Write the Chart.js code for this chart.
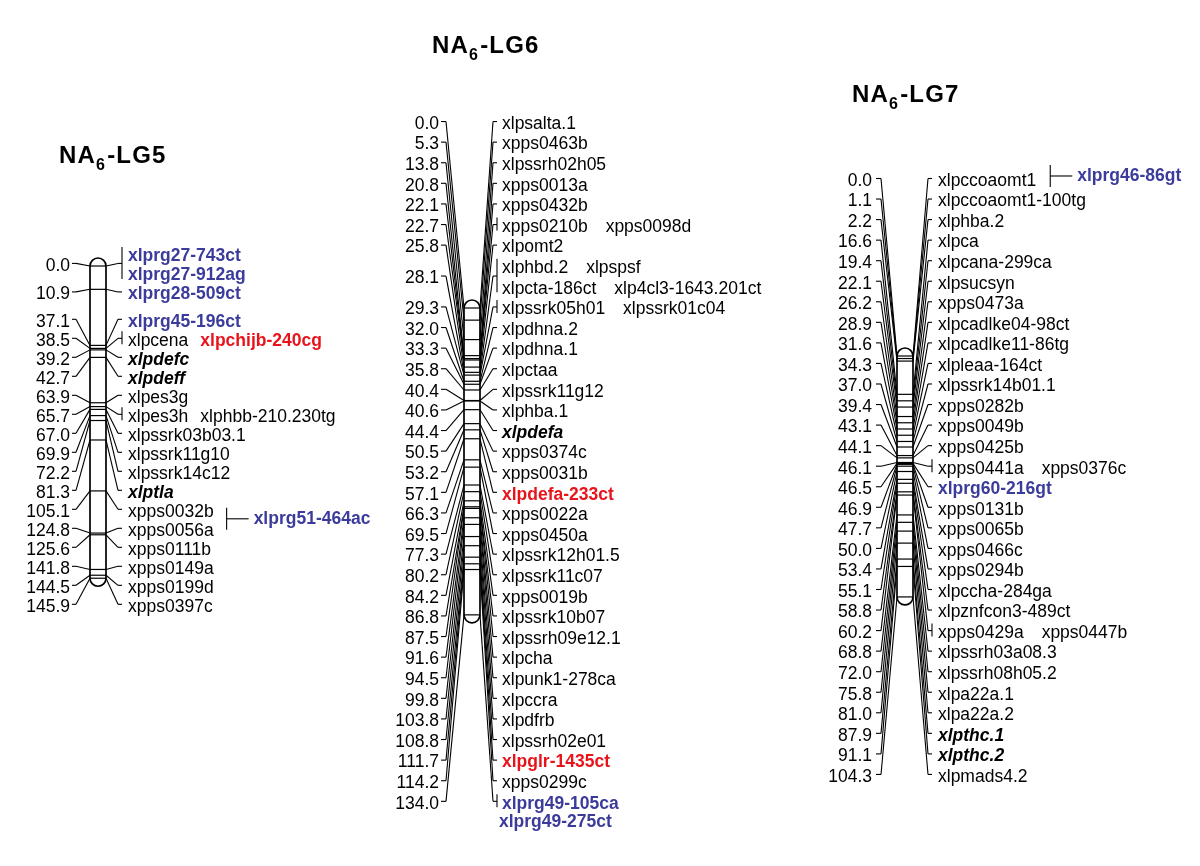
<!DOCTYPE html>
<html><head><meta charset="utf-8">
<script src="https://cdn.jsdelivr.net/npm/chart.js@4.4.0/dist/chart.umd.min.js"></script>
<style>html,body{margin:0;padding:0;background:#fff}canvas{display:block}</style>
</head><body>
<canvas id="c" width="1200" height="866"></canvas>
<script>
// ---------------- data ----------------
const groupNames = ["LG5", "LG6", "LG7"];

const lg5Pos = [0.0, 10.9, 37.1, 38.5, 39.2, 42.7, 63.9, 65.7, 67.0, 69.9, 72.2, 81.3, 105.1, 124.8, 125.6, 141.8, 144.5, 145.9];
const lg5Markers = [
  [["xlprg27-743ct"], ["xlprg27-912ag"]],
  [["xlprg28-509ct"]],
  [["xlprg45-196ct"]],
  [["xlpcena", "xlpchijb-240cg"]],
  [["xlpdefc"]],
  [["xlpdeff"]],
  [["xlpes3g"]],
  [["xlpes3h", "xlphbb-210.230tg"]],
  [["xlpssrk03b03.1"]],
  [["xlpssrk11g10"]],
  [["xlpssrk14c12"]],
  [["xlptla"]],
  [["xpps0032b"]],
  [["xpps0056a"]],
  [["xpps0111b"]],
  [["xpps0149a"]],
  [["xpps0199d"]],
  [["xpps0397c"]]
];
const lg5SidePos = [105.1];
const lg5SideNames = ["xlprg51-464ac"];
const lg5BelowPos = [];
const lg5BelowNames = [];

const lg6Pos = [0.0, 5.3, 13.8, 20.8, 22.1, 22.7, 25.8, 28.1, 29.3, 32.0, 33.3, 35.8, 40.4, 40.6, 44.4, 50.5, 53.2, 57.1, 66.3, 69.5, 77.3, 80.2, 84.2, 86.8, 87.5, 91.6, 94.5, 99.8, 103.8, 108.8, 111.7, 114.2, 134.0];
const lg6Markers = [
  [["xlpsalta.1"]], [["xpps0463b"]], [["xlpssrh02h05"]], [["xpps0013a"]], [["xpps0432b"]],
  [["xpps0210b", "xpps0098d"]], [["xlpomt2"]],
  [["xlphbd.2", "xlpspsf"], ["xlpcta-186ct", "xlp4cl3-1643.201ct"]],
  [["xlpssrk05h01", "xlpssrk01c04"]],
  [["xlpdhna.2"]], [["xlpdhna.1"]], [["xlpctaa"]], [["xlpssrk11g12"]], [["xlphba.1"]], [["xlpdefa"]],
  [["xpps0374c"]], [["xpps0031b"]], [["xlpdefa-233ct"]], [["xpps0022a"]], [["xpps0450a"]],
  [["xlpssrk12h01.5"]], [["xlpssrk11c07"]], [["xpps0019b"]], [["xlpssrk10b07"]], [["xlpssrh09e12.1"]],
  [["xlpcha"]], [["xlpunk1-278ca"]], [["xlpccra"]], [["xlpdfrb"]], [["xlpssrh02e01"]], [["xlpglr-1435ct"]],
  [["xpps0299c"]], [["xlprg49-105ca"]]
];
const lg6SidePos = [];
const lg6SideNames = [];
const lg6BelowPos = [134.0];
const lg6BelowNames = ["xlprg49-275ct"];

const lg7Pos = [0.0, 1.1, 2.2, 16.6, 19.4, 22.1, 26.2, 28.9, 31.6, 34.3, 37.0, 39.4, 43.1, 44.1, 46.1, 46.5, 46.9, 47.7, 50.0, 53.4, 55.1, 58.8, 60.2, 68.8, 72.0, 75.8, 81.0, 87.9, 91.1, 104.3];
const lg7Markers = [
  [["xlpccoaomt1"]], [["xlpccoaomt1-100tg"]], [["xlphba.2"]], [["xlpca"]], [["xlpcana-299ca"]],
  [["xlpsucsyn"]], [["xpps0473a"]], [["xlpcadlke04-98ct"]], [["xlpcadlke11-86tg"]], [["xlpleaa-164ct"]],
  [["xlpssrk14b01.1"]], [["xpps0282b"]], [["xpps0049b"]], [["xpps0425b"]], [["xpps0441a", "xpps0376c"]],
  [["xlprg60-216gt"]], [["xpps0131b"]], [["xpps0065b"]], [["xpps0466c"]], [["xpps0294b"]],
  [["xlpccha-284ga"]], [["xlpznfcon3-489ct"]], [["xpps0429a", "xpps0447b"]], [["xlpssrh03a08.3"]],
  [["xlpssrh08h05.2"]], [["xlpa22a.1"]], [["xlpa22a.2"]], [["xlpthc.1"]], [["xlpthc.2"]], [["xlpmads4.2"]]
];
const lg7SidePos = [0.0];
const lg7SideNames = ["xlprg46-86gt"];
const lg7BelowPos = [];
const lg7BelowNames = [];

// marker classes
const rgaMarkers = ["xlprg27-743ct", "xlprg27-912ag", "xlprg28-509ct", "xlprg45-196ct", "xlprg51-464ac",
  "xlprg49-105ca", "xlprg49-275ct", "xlprg46-86gt", "xlprg60-216gt"];
const candidateMarkers = ["xlpchijb-240cg", "xlpdefa-233ct", "xlpglr-1435ct"];
const geneMarkers = ["xlpdefc", "xlpdeff", "xlptla", "xlpdefa", "xlpthc.1", "xlpthc.2"];

// ---------------- layout (not data) ----------------
const FONT = '"Liberation Sans", Arial, Helvetica, sans-serif';
const FS = '17.5px ';
const BLUE = '#3b3b9c';
const RED = '#e8141c';
const H = 866;
const layout = {
  LG5: { axis: 'y5', bx: 98, bw: 16, top: 266, k: 2.14, gap: 19, numRight: 70, lh0: 72, lh1: 76, rd: 118, rh: 122, textX: 128, colGap: 12, tx: 59, ty: 163, sideGap: 13, sideDy: 9.5 },
  LG6: { axis: 'y6', bx: 472, bw: 16, top: 308, k: 2.29, gap: 20.6, numRight: 439, lh0: 441, lh1: 446, rd: 493, rh: 497, textX: 502, colGap: 18, tx: 432, ty: 53, sideGap: 13, sideDy: 0 },
  LG7: { axis: 'y7', bx: 905, bw: 16, top: 356, k: 2.31, gap: 20.55, numRight: 872, lh0: 876, lh1: 881, rd: 928, rh: 932, textX: 938, colGap: 18, tx: 852, ty: 102, sideGap: 14, sideDy: -2.5 }
};
const groups = [
  { name: "LG5", pos: lg5Pos, markers: lg5Markers, sidePos: lg5SidePos, sideNames: lg5SideNames, belowPos: lg5BelowPos, belowNames: lg5BelowNames },
  { name: "LG6", pos: lg6Pos, markers: lg6Markers, sidePos: lg6SidePos, sideNames: lg6SideNames, belowPos: lg6BelowPos, belowNames: lg6BelowNames },
  { name: "LG7", pos: lg7Pos, markers: lg7Markers, sidePos: lg7SidePos, sideNames: lg7SideNames, belowPos: lg7BelowPos, belowNames: lg7BelowNames }
];

function styleFor(n) {
  if (rgaMarkers.includes(n)) return { font: 'bold ' + FS + FONT, color: BLUE };
  if (candidateMarkers.includes(n)) return { font: 'bold ' + FS + FONT, color: RED };
  if (geneMarkers.includes(n)) return { font: 'italic bold ' + FS + FONT, color: '#000' };
  return { font: FS + FONT, color: '#000' };
}

// label spreading: stack overlapping blocks, centre each cluster on its first/last true position
function spread(t, rows, gap) {
  const n = t.length, centers = new Array(n);
  const clusters = [];
  let cur = null;
  for (let i = 0; i < n; i++) {
    const h = rows[i] * gap;
    if (cur && t[i] - h / 2 < cur.end) { cur.idx.push(i); cur.end += h; }
    else { cur = { idx: [i], end: t[i] + h / 2 }; clusters.push(cur); }
  }
  function place(c) {
    let off = 0; const offs = [];
    c.idx.forEach(i => { const h = rows[i] * gap; offs.push(off + h / 2); off += h; });
    const f = c.idx[0], l = c.idx[c.idx.length - 1];
    const s = (t[f] + t[l]) / 2 - (offs[0] + offs[offs.length - 1]) / 2;
    c.start = s; c.stop = s + off;
    c.idx.forEach((i, j) => centers[i] = s + offs[j]);
  }
  let changed = true;
  while (changed) {
    changed = false;
    clusters.forEach(place);
    for (let j = 1; j < clusters.length; j++) {
      if (clusters[j].start < clusters[j - 1].stop - 0.01) {
        clusters[j - 1].idx = clusters[j - 1].idx.concat(clusters[j].idx);
        clusters.splice(j, 1); changed = true; break;
      }
    }
  }
  clusters.forEach(place);
  return centers;
}

function line(ctx, x1, y1, x2, y2) { ctx.beginPath(); ctx.moveTo(x1, y1); ctx.lineTo(x2, y2); ctx.stroke(); }

const mapPlugin = {
  id: 'linkageMap',
  beforeDatasetsDraw(chart) {
    const ctx = chart.ctx, xs = chart.scales.x;
    groups.forEach(g => {
      const L = layout[g.name], ys = chart.scales[L.axis];
      const cx = xs.getPixelForValue(L.bx), r = L.bw / 2;
      const y0 = ys.getPixelForValue(g.pos[0]);
      const y1 = ys.getPixelForValue(g.pos[g.pos.length - 1]);
      ctx.save();
      ctx.beginPath();
      ctx.moveTo(cx - r, y0);
      ctx.arc(cx, y0, r, Math.PI, 0);
      ctx.lineTo(cx + r, y1);
      ctx.arc(cx, y1, r, 0, Math.PI);
      ctx.closePath();
      ctx.fillStyle = '#fff'; ctx.fill();
      ctx.lineWidth = 1.7; ctx.strokeStyle = '#000'; ctx.stroke();
      ctx.restore();
    });
  },
  afterDatasetsDraw(chart) {
    const ctx = chart.ctx, xs = chart.scales.x;
    ctx.save();
    ctx.strokeStyle = '#000'; ctx.lineWidth = 1.1; ctx.textBaseline = 'middle';
    groups.forEach(g => {
      const L = layout[g.name], ys = chart.scales[L.axis];
      const px = v => xs.getPixelForValue(v);
      const cx = px(L.bx), r = L.bw / 2;
      const t = g.pos.map(v => ys.getPixelForValue(v));
      const rows = g.markers.map(m => m.length);
      const centers = spread(t, rows, L.gap);

      // title
      ctx.save();
      ctx.fillStyle = '#000';
      ctx.textAlign = 'left';
      ctx.textBaseline = 'alphabetic';
      if ('letterSpacing' in ctx) ctx.letterSpacing = '1.2px';
      let x = px(L.tx);
      ctx.font = 'bold 24px ' + FONT; ctx.fillText('NA', x, L.ty); x += ctx.measureText('NA').width;
      ctx.font = 'bold 16px ' + FONT; ctx.fillText('6', x, L.ty + 7); x += ctx.measureText('6').width + 1;
      ctx.font = 'bold 24px ' + FONT; ctx.fillText('-' + g.name, x, L.ty);
      ctx.restore();
      ctx.textBaseline = 'middle';

      g.pos.forEach((v, i) => {
        const c = centers[i], m = t[i];
        // left: position label
        ctx.font = FS + FONT; ctx.fillStyle = '#000'; ctx.textAlign = 'right';
        ctx.fillText(v.toFixed(1), px(L.numRight), c + 2.5);
        line(ctx, px(L.lh0), c, px(L.lh1), c);
        line(ctx, px(L.lh1), c, cx - r, m);
        // right: marker names
        const nRows = g.markers[i].length;
        const below = g.belowPos.indexOf(v);
        const multi = nRows > 1 || g.markers[i][0].length > 1 || below >= 0;
        line(ctx, cx + r, m, px(L.rd), c);
        line(ctx, px(L.rd), c, px(L.rh), c);
        const firstRow = c - (nRows - 1) / 2 * L.gap;
        const lastRow = c + (nRows - 1) / 2 * L.gap;
        if (multi) line(ctx, px(L.rh), firstRow - 7, px(L.rh), lastRow + 6);
        ctx.textAlign = 'left';
        g.markers[i].forEach((rowNames, ri) => {
          const ry = firstRow + ri * L.gap;
          let tx = px(L.textX);
          rowNames.forEach((n, ni) => {
            const st = styleFor(n);
            ctx.font = st.font; ctx.fillStyle = st.color;
            ctx.fillText(n, tx, ry + 2.5);
            tx += ctx.measureText(n).width + (ni < rowNames.length - 1 ? L.colGap : 0);
          });
          if (ri === 0) {
            const si = g.sidePos.indexOf(v);
            if (si >= 0) {
              const bx = tx + L.sideGap, by = ry + L.sideDy;
              line(ctx, bx, by - 11, bx, by + 11);
              line(ctx, bx, by, bx + 22, by);
              const st = styleFor(g.sideNames[si]);
              ctx.font = st.font; ctx.fillStyle = st.color;
              ctx.fillText(g.sideNames[si], bx + 27, by);
            }
          }
        });
        if (below >= 0) {
          const n = g.belowNames[below], st = styleFor(n);
          ctx.font = st.font; ctx.fillStyle = st.color;
          ctx.fillText(n, px(L.textX) - 3, lastRow + 2.5 + 18);
        }
      });
    });
    ctx.restore();
  }
};

const scales = { x: { type: 'linear', display: false, min: 0, max: 1200, bounds: 'data' } };
groups.forEach(g => {
  const L = layout[g.name];
  const mn = -L.top / L.k;
  scales[L.axis] = { type: 'linear', display: false, reverse: true, bounds: 'data', min: mn, max: mn + H / L.k, position: 'left' };
});

new Chart(document.getElementById('c').getContext('2d'), {
  type: 'scatter',
  data: {
    datasets: groups.map(g => ({
      label: g.name,
      data: g.pos.map(v => ({ x: layout[g.name].bx, y: v })),
      yAxisID: layout[g.name].axis,
      pointStyle: 'line',
      pointRadius: layout[g.name].bw / 2,
      pointHoverRadius: layout[g.name].bw / 2,
      borderColor: '#000',
      backgroundColor: '#000',
      borderWidth: 1.2,
      showLine: false,
      clip: false
    }))
  },
  options: {
    responsive: false, animation: false, events: [], devicePixelRatio: 1,
    layout: { padding: 0, autoPadding: false },
    plugins: { legend: { display: false }, tooltip: { enabled: false }, title: { display: false } },
    scales
  },
  plugins: [mapPlugin]
});
</script>
</body></html>
